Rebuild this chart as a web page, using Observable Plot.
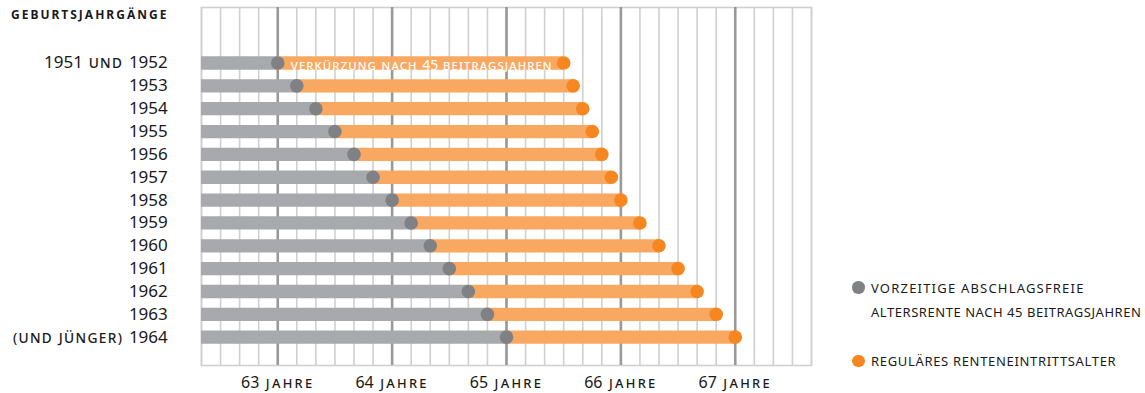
<!DOCTYPE html>
<html>
<head>
<meta charset="utf-8">
<script src="https://cdn.jsdelivr.net/npm/d3@7"></script>
<script src="https://cdn.jsdelivr.net/npm/@observablehq/plot@0.6"></script>
<style>
  body { margin: 0; background: #fff; font-family: "Noto Sans", sans-serif; color: #1a1a1a; }
  #wrap { position: relative; width: 1145px; height: 393px; overflow: hidden; }
  #head { position: absolute; left: 11px; top: 7px; font-weight: bold; font-size: 12px; letter-spacing: 2px; line-height: 16px; }
  .leg { position: absolute; left: 871px; font-size: 13px; line-height: 16px; white-space: nowrap; }
  .dot { position: absolute; left: 852px; width: 12.5px; height: 12.5px; border-radius: 50%; }
  g[aria-label="y-axis tick label"], g[aria-label="x-axis tick label"], g[aria-label="text"] { font-variant: all-small-caps; }
</style>
</head>
<body>
<div id="wrap">
  <div id="head">GEBURTSJAHRGÄNGE</div>
  <div class="dot" style="top:281px;background:#808184"></div>
  <div class="leg" style="top:280px;letter-spacing:1.2px">VORZEITIGE ABSCHLAGSFREIE</div>
  <div class="leg" style="top:304px;letter-spacing:0.55px">ALTERSRENTE NACH 45 BEITRAGSJAHREN</div>
  <div class="dot" style="top:354.5px;background:#f6861f"></div>
  <div class="leg" style="top:353px;letter-spacing:0.67px">REGULÄRES RENTENEINTRITTSALTER</div>
</div>
<script>
// ---- data ----
const cohorts = ["1951 und 1952","1953","1954","1955","1956","1957","1958","1959","1960","1961","1962","1963","(und jünger) 1964"];
const earlyYears    = [63,63,63,63,63,63,64,64,64,64,64,64,65];
const earlyMonths   = [0,2,4,6,8,10,0,2,4,6,8,10,0];
const regularYears  = [65,65,65,65,65,65,66,66,66,66,66,66,67];
const regularMonths = [6,7,8,9,10,11,0,2,4,6,8,10,0];
const yearTicks = [63,64,65,66,67];
const annotation = "Verkürzung nach 45 Beitragsjahren";
const xStart = [62, 4];   // years, months
const xEnd   = [67, 8];

const data = cohorts.map((c, i) => ({
  i, label: c,
  start: xStart[0] + xStart[1] / 12,
  early: earlyYears[i] + earlyMonths[i] / 12,
  regular: regularYears[i] + regularMonths[i] / 12
}));

const minorGrid = d3.range(xStart[0] * 12 + xStart[1], xEnd[0] * 12 + xEnd[1] + 1, 2).map(m => m / 12);

const chart = Plot.plot({
  width: 1145,
  height: 393,
  marginLeft: 201,
  marginRight: 334,
  marginTop: 7,
  marginBottom: 28,
  x: { domain: [xStart[0] + xStart[1] / 12, xEnd[0] + xEnd[1] / 12] },
  y: { domain: [-2.43, 13.24], range: [7, 365] },
  style: { fontFamily: '"Noto Sans", sans-serif', color: "#1a1a1a" },
  marks: [
    Plot.ruleX(minorGrid, { stroke: "#d0d0d0", strokeWidth: 1.6 }),
    Plot.frame({ stroke: "#d0d0d0", strokeWidth: 1.6 }),
    Plot.ruleX(yearTicks, { stroke: "#999999", strokeWidth: 2.6 }),
    Plot.ruleY(data, { y: "i", x1: "start", x2: "early", stroke: "#a7a9ac", strokeWidth: 13.3 }),
    Plot.ruleY(data, { y: "i", x1: "early", x2: "regular", stroke: "#f9a862", strokeWidth: 13.3 }),
    Plot.dot(data, { x: "early", y: "i", r: 6.8, fill: "#808184" }),
    Plot.dot(data, { x: "regular", y: "i", r: 6.8, fill: "#f6861f" }),
    Plot.text(data.slice(0, 1), { x: "early", y: "i", text: () => annotation, dx: 13, dy: 2, textAnchor: "start", fill: "white", fontSize: 14 }),
    Plot.axisY(d3.range(cohorts.length), { tickSize: 0, tickPadding: 33.7, tickFormat: i => cohorts[i], fontSize: 17, label: null }),
    Plot.axisX(yearTicks, { tickSize: 0, tickPadding: 11, tickFormat: d => `${d} Jahre`, fontSize: 16, label: null })
  ]
});

// letter-space the small-caps word runs (digits keep normal spacing)
function spaceSmallCaps(selector, spacing) {
  chart.querySelectorAll(selector + " text").forEach(t => {
    const s = t.textContent;
    if (/^\d+$/.test(s)) return;
    const parts = s.match(/\d+|[^\d]+/g);
    t.textContent = "";
    parts.forEach(p => {
      const ts = document.createElementNS("http://www.w3.org/2000/svg", "tspan");
      ts.textContent = p;
      if (!/^\d+$/.test(p)) ts.setAttribute("letter-spacing", spacing);
      t.appendChild(ts);
    });
  });
}
spaceSmallCaps('g[aria-label="y-axis tick label"]', 1.3);
spaceSmallCaps('g[aria-label="x-axis tick label"]', 2.3);
spaceSmallCaps('g[aria-label="text"]', 1.1);

document.getElementById("wrap").prepend(chart);
chart.style.position = "absolute";
chart.style.left = "0";
chart.style.top = "0";
</script>
</body>
</html>
